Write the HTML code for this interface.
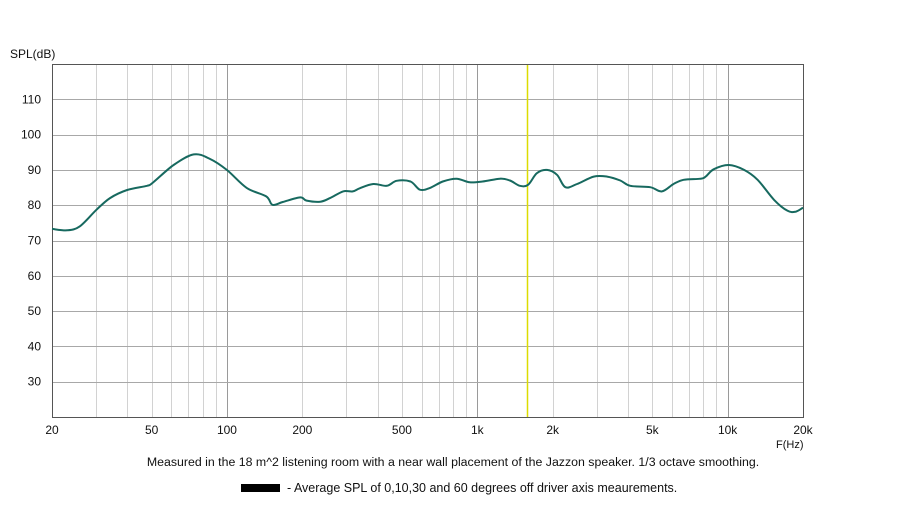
<!DOCTYPE html>
<html><head><meta charset="utf-8"><style>
body{margin:0;background:#fff;width:903px;height:508px;overflow:hidden;font-family:"Liberation Sans",sans-serif}
svg text{font-family:"Liberation Sans",sans-serif;fill:#111}
</style></head><body>
<svg width="903" height="508">
<g id="grid"></g>
<g id="axes"></g>
<path id="curve" fill="none" stroke="#17695f" stroke-width="2" stroke-linejoin="round"/>
<text x="10" y="58" font-size="12">SPL(dB)</text>
<text x="776" y="448" font-size="11">F(Hz)</text>
<text x="453" y="466" font-size="12.35" text-anchor="middle">Measured in the 18 m^2 listening room with a near wall placement of the Jazzon speaker. 1/3 octave smoothing.</text>
<rect x="241" y="484" width="39" height="8" fill="#000"/>
<text x="287" y="492" font-size="12.5">-  Average SPL of 0,10,30 and 60 degrees off driver axis meaurements.</text>
</svg>
<script>
const freqs=[20,23,25.8,30.1,34.1,39.9,47.9,50.6,61.2,73.7,85.6,99.8,119.9,143.5,152,167,196,208,236,258,291,318,339,384,435,476,541,590,648,728,826,932,1050,1232,1350,1480,1597,1731,1898,2082,2248,2503,2917,3300,3724,4085,4905,5460,6080,6670,7790,8170,8810,10120,11630,13170,15330,17360,18750,20000];
const spl=[73.3,72.9,74,78.7,82,84.3,85.5,86.4,91.4,94.4,93.1,90,84.9,82.5,80.1,80.9,82.2,81.3,81,82,83.9,83.9,84.8,86,85.5,86.9,86.7,84.4,84.9,86.7,87.5,86.5,86.7,87.5,87,85.5,85.8,89.1,90,88.6,85.1,86,88.1,88.1,87,85.5,85.1,83.9,86,87.2,87.5,88.1,90.2,91.4,90,87.2,81.5,78.4,78.2,79.3];
const xTicks=[20,50,100,200,500,1000,2000,5000,10000,20000];
const xTickLabels=["20","50","100","200","500","1k","2k","5k","10k","20k"];
const yTicks=[30,40,50,60,70,80,90,100,110];
const markerFreq=1580;
const L=52,R=803,T=64,B=417;
const X=f=>L+(R-L)*Math.log10(f/20)/3;
const Y=v=>B-(B-T)*(v-20)/100;
const ns="http://www.w3.org/2000/svg";
const grid=document.getElementById('grid'),axes=document.getElementById('axes');
function line(p,x1,y1,x2,y2,c,name){const l=document.createElementNS(ns,'line');l.setAttribute('x1',x1);l.setAttribute('y1',y1);l.setAttribute('x2',x2);l.setAttribute('y2',y2);l.setAttribute('stroke',c);l.setAttribute('stroke-width',1);


p.appendChild(l);return l;}
function text(p,x,y,s,anchor,name){const t=document.createElementNS(ns,'text');t.setAttribute('x',x);t.setAttribute('y',y);t.setAttribute('font-size','12');t.setAttribute('text-anchor',anchor);t.textContent=s;


p.appendChild(t);}
for(let d=10;d<=10000;d*=10){for(let m=1;m<=9;m++){const f=d*m;if(f<=20||f>=20000)continue;const x=Math.round(X(f))+0.5;line(grid,x,T,x,B,m==1?'#9a9a9a':'#d2d2d2','x-gridline');}}
for(let v=30;v<=110;v+=10){const y=Math.round(Y(v))+0.5;line(grid,L,y,R,y,'#a8a8a8','y-gridline');}
const mx=Math.round(X(markerFreq))+0.5;const ml=line(grid,mx,T,mx,B,'#dcdc00','marker-line');ml.setAttribute('stroke-width',1.5);
const r=document.createElementNS(ns,'rect');r.setAttribute('x',L+0.5);r.setAttribute('y',T+0.5);r.setAttribute('width',R-L);r.setAttribute('height',B-T);r.setAttribute('fill','none');r.setAttribute('stroke','#555');


axes.appendChild(r);
yTicks.forEach(v=>text(axes,41,Y(v)+4,String(v),'end','y-tick-label'));
xTicks.forEach((f,i)=>text(axes,X(f),434,xTickLabels[i],'middle','x-tick-label'));
const pts=freqs.map((f,i)=>[X(f),Y(spl[i])]);
let d='M'+pts[0][0].toFixed(1)+' '+pts[0][1].toFixed(1);
for(let i=0;i<pts.length-1;i++){const p0=pts[Math.max(0,i-1)],p1=pts[i],p2=pts[i+1],p3=pts[Math.min(pts.length-1,i+2)];
const c1=[p1[0]+(p2[0]-p0[0])/6,p1[1]+(p2[1]-p0[1])/6],c2=[p2[0]-(p3[0]-p1[0])/6,p2[1]-(p3[1]-p1[1])/6];
d+=' C'+c1.map(v=>v.toFixed(1)).join(' ')+' '+c2.map(v=>v.toFixed(1)).join(' ')+' '+p2.map(v=>v.toFixed(1)).join(' ');}
document.getElementById('curve').setAttribute('d',d);
</script>
</body></html>
